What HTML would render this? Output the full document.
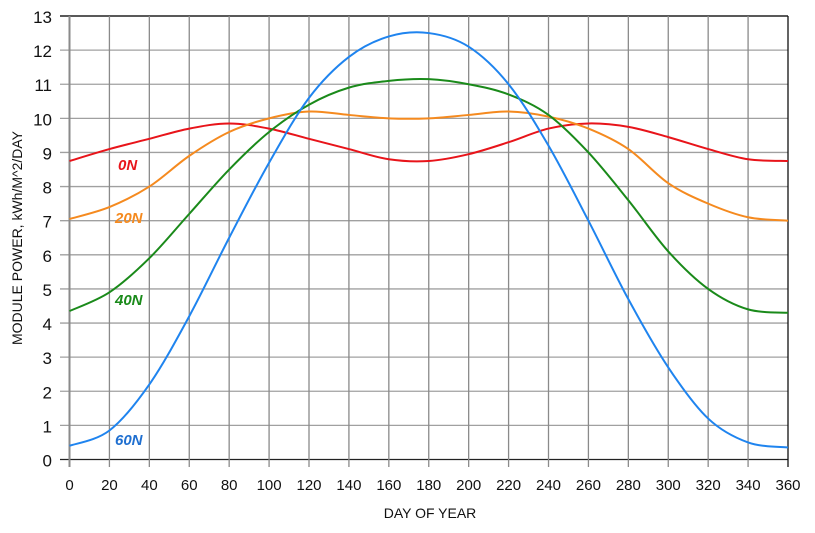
<!DOCTYPE html>
<html><head><meta charset="utf-8"><style>
body{margin:0;background:#fff;}
svg{display:block;font-family:"Liberation Sans",Arial,sans-serif;}
</style></head><body>
<svg id="s" width="815" height="533" xmlns="http://www.w3.org/2000/svg">
<g id="grid"></g>
<g id="series"></g>
<text x="118" y="170" fill="#e8141a" font-size="15" font-weight="bold" font-style="italic">0N</text>
<text x="115" y="223" fill="#f58a1f" font-size="15" font-weight="bold" font-style="italic">20N</text>
<text x="115" y="305" fill="#1a8a1a" font-size="15" font-weight="bold" font-style="italic">40N</text>
<text x="115" y="445" fill="#1f6fd0" font-size="15" font-weight="bold" font-style="italic">60N</text>
<text x="430" y="518" font-size="14" text-anchor="middle" fill="#111">DAY OF YEAR</text>
<text transform="translate(22,238) rotate(-90)" font-size="14" text-anchor="middle" fill="#111">MODULE POWER, kWh/M^2/DAY</text>
</svg>
<script>
var X0=69.5,XS=(788-69.5)/360,Y0=459.5,YS=(459.5-16)/13,ns="http://www.w3.org/2000/svg";
function px(d){return X0+d*XS} function py(v){return Y0-v*YS}
function el(t,a,p,txt){var e=document.createElementNS(ns,t);for(var k in a)e.setAttribute(k,a[k]);if(txt!=null)e.textContent=txt;p.appendChild(e);return e}
var g=document.getElementById('grid');
for(var v=0;v<=13;v++){var y=py(v);el('line',{x1:60,x2:788,y1:y,y2:y,stroke:v==13||v==0?'#222':'#a0a0a0','stroke-width':v==13?1.5:1.3},g);
el('text',{x:52,y:y+7,'font-size':17,'text-anchor':'end',fill:'#111'},g,v);}
for(var d=0;d<=360;d+=20){var x=px(d);el('line',{x1:x,x2:x,y1:16,y2:467,stroke:d==360?'#111':'#8a8a8a','stroke-width':d==0?2:1.3},g);
el('text',{x:x,y:490,'font-size':15,'text-anchor':'middle',fill:'#111'},g,d);}
var D=[0,20,40,60,80,100,120,140,160,180,200,220,240,260,280,300,320,340,360];
var S=[
['#e8141a',[8.75,9.1,9.4,9.7,9.85,9.7,9.4,9.1,8.8,8.75,8.95,9.3,9.7,9.85,9.75,9.45,9.1,8.8,8.75]],
['#f58a1f',[7.05,7.4,8.0,8.9,9.6,10.0,10.2,10.1,10.0,10.0,10.1,10.2,10.05,9.7,9.1,8.1,7.5,7.1,7.0]],
['#1a8a1a',[4.35,4.9,5.9,7.2,8.5,9.6,10.4,10.9,11.1,11.15,11.0,10.7,10.1,9.0,7.6,6.1,5.0,4.4,4.3]],
['#1f84ef',[0.4,0.85,2.2,4.2,6.5,8.7,10.6,11.8,12.4,12.5,12.1,11.0,9.2,7.0,4.7,2.7,1.2,0.5,0.35]]];
var sg=document.getElementById('series');
S.forEach(function(s){var P=D.map(function(d,i){return[px(d),py(s[1][i])]});var p='M'+P[0];
for(var i=0;i<P.length-1;i++){var a=P[i-1]||P[i],b=P[i],c=P[i+1],e=P[i+2]||c;
p+='C'+(b[0]+(c[0]-a[0])/6)+','+(b[1]+(c[1]-a[1])/6)+' '+(c[0]-(e[0]-b[0])/6)+','+(c[1]-(e[1]-b[1])/6)+' '+c[0]+','+c[1];}
el('path',{d:p,fill:'none',stroke:s[0],'stroke-width':2},sg);});
</script>
</body></html>
